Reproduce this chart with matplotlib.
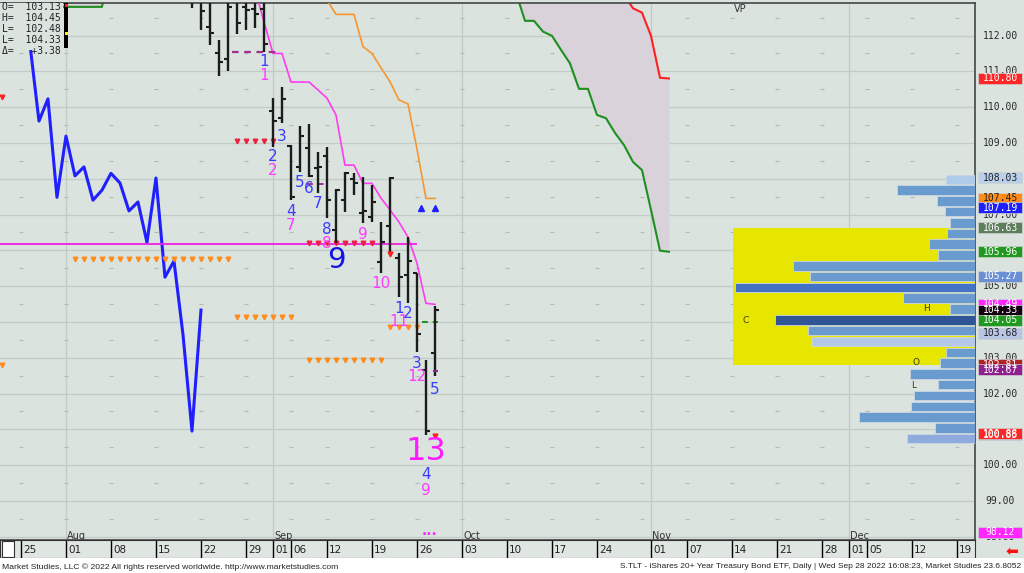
import matplotlib
matplotlib.use("Agg")
import matplotlib.pyplot as plt
import matplotlib.transforms as mtransforms
from matplotlib.patches import Rectangle

# S.TLT daily bars, Aug 19 .. Sep 28 2022 (bar index 0..27)
bar_open = [113.30, 113.20, 112.25, 111.51, 111.34, 113.00, 112.80, 112.73, 112.73,
            109.89, 109.69, 108.92, 108.32, 108.85, 108.30, 108.64, 106.57, 107.40,
            107.99, 107.05, 106.94, 105.66, 106.68, 105.78, 105.31, 105.36, 102.66, 103.13]
bar_high = [113.80, 113.60, 113.10, 111.87, 113.00, 113.40, 113.30, 113.20, 113.10,
            110.25, 110.57, 108.94, 109.47, 109.52, 108.75, 108.88, 107.70, 108.18,
            108.17, 108.06, 107.83, 106.80, 108.04, 105.93, 106.38, 105.36, 102.94, 104.45]
bar_low = [112.77, 112.15, 111.73, 110.87, 111.00, 112.04, 112.15, 112.21, 111.54,
           108.89, 109.56, 107.40, 108.20, 108.06, 107.59, 106.89, 106.20, 107.08,
           107.54, 106.75, 106.80, 105.36, 105.96, 104.70, 104.52, 103.17, 100.85, 102.48]
bar_close = [113.00, 112.69, 112.06, 111.26, 112.80, 112.35, 112.71, 112.60, 111.75,
             109.61, 110.23, 107.48, 109.19, 108.08, 108.33, 107.40, 107.68, 108.15,
             107.88, 107.10, 107.35, 106.22, 108.02, 105.25, 105.70, 103.65, 100.95, 104.33]
bar_idx = list(range(28))
lag_periods = 26

# conversion line (magenta) and base line (orange)
tenkan_idx = list(range(7, 28))
tenkan_val = [113.30, 112.38, 111.50, 111.50, 110.70, 110.70, 110.70, 110.48, 110.25, 109.78,
              108.38, 108.38, 107.87, 107.87, 107.46, 107.13, 106.79, 106.37, 105.64, 104.52, 104.49]
kijun_idx = list(range(14, 28))
kijun_val = [113.50, 112.99, 112.59, 112.59, 112.59, 111.69, 111.50, 111.10, 110.71, 110.20,
             110.09, 108.83, 107.45, 107.45]

# cloud projected forward
cloud_idx = list(range(36, 54))
span_b = [113.20, 112.41, 112.41, 112.11, 111.99, 111.60, 111.22, 110.51, 110.51, 109.78,
          109.69, 109.28, 108.94, 108.47, 108.24, 107.13, 105.99, 105.96]
span_a = [113.90, 113.90, 113.85, 113.80, 113.75, 113.70, 113.60, 113.50, 113.40, 113.35,
          113.30, 113.25, 113.15, 112.76, 112.64, 111.99, 110.82, 110.80]
red_from = 12  # span_a visible from this position on
early_idx = [-22, -21, -20, -19, -18, -17, -16, -15, -14, -13, -12, -11, -10, -9]
early_span_b = [112.80, 112.80, 112.80, 112.80, 112.80, 112.80, 112.80, 112.80, 112.80,
                112.80, 112.80, 112.80, 112.80, 114.00]

# volume profile
vp_price = [107.98, 107.68, 107.38, 107.08, 106.77, 106.47, 106.17, 105.87, 105.57, 105.27,
            104.96, 104.66, 104.36, 104.06, 103.76, 103.45, 103.15, 102.85, 102.55, 102.25,
            101.94, 101.64, 101.34, 101.04, 100.74]
vp_volume = [29, 78, 38, 30, 25, 28, 46, 37, 182, 165, 240, 72, 25, 200, 167, 163, 29, 35,
             65, 37, 61, 64, 116, 40, 68]
vp_colors = ['#aecbea'] + ['#6a9bcf'] * 9 + ['#4472c4', '#6a9bcf', '#6a9bcf', '#2f5597',
             '#6a9bcf', '#b4c7e7'] + ['#6a9bcf'] * 8 + ['#8faadc']
va_high, va_low = 106.63, 102.81

# sequential count labels
td_blue_idx = [8, 9, 10, 11, 12, 13, 14, 15, 23, 24, 25, 27, 26]
td_blue_price = [111.27, 108.61, 109.17, 107.08, 107.89, 107.73, 107.31, 106.59, 104.38,
                 104.24, 102.84, 102.10, 99.75]
td_blue_text = ['1', '2', '3', '4', '5', '6', '7', '8', '1', '2', '3', '5', '4']
td_mag_idx = [8, 9, 11, 15, 19, 21, 23, 25, 26]
td_mag_price = [110.87, 108.22, 106.68, 106.18, 106.43, 105.06, 104.00, 102.47, 99.30]
td_mag_text = ['1', '2', '7', '8', '9', '10', '11', '12', '9']

# marker rows: (first bar, last bar, price)
orange_rows = [(-13, 4, 105.75), (5, 11, 104.13), (13, 21, 102.94), (22, 25, 103.87)]
red_rows = [(5, 9, 109.05), (13, 20, 106.20)]

# right axis: plain levels still visible, then coloured tags
axis_levels = [112, 111, 110, 109, 107, 105, 103, 102, 100, 99, 98]
tag_price = [110.80, 108.03, 107.45, 107.19, 106.63, 105.96, 105.27, 104.49, 104.33, 104.05,
             103.68, 102.81, 102.67, 100.85, 100.88, 98.12]
tag_face = ['#ff2626', '#b8d0ec', '#ff8c1a', '#1e1eff', '#5d7d5d', '#1f9a1f', '#6b8fd6',
            '#ff26ff', '#14000f', '#1f9a1f', '#b8c6e6', '#b02222', '#8e1f8e', '#8fa8da',
            '#ff2626', '#ff26ff']
tag_text = ['white', '#222222', '#222222', 'white', 'white', 'white', 'white', 'white',
            'white', 'white', '#222222', 'white', 'white', 'white', 'white', 'white']

# date axis
day_idx = [-19, -14, -9, -4, 1, 6, 9, 11, 15, 20, 25, 30, 35, 40, 45, 51, 55, 60, 65, 70,
           73, 75, 80, 85]
day_text = ['25', '01', '08', '15', '22', '29', '01', '06', '12', '19', '26', '03', '10',
            '17', '24', '01', '07', '14', '21', '28', '01', '05', '12', '19']
month_idx = [-14, 9, 30, 51, 73]
month_text = ['Aug', 'Sep', 'Oct', 'Nov', 'Dec']
week_idx = [-19, -14, -9, -4, 1, 6, 11, 15, 20, 25, 30, 35, 40, 45, 50, 55, 60, 65, 70, 75, 80, 85]

BG = '#dae3de'
GRID = '#c3cbc6'
W, H = 1024, 573

fig = plt.figure(figsize=(W / 100, H / 100), dpi=100, facecolor=BG)
ax = fig.add_axes([0, 33 / H, 975 / W, 537 / H])
ax.set_facecolor(BG)
ax.set_xlim(-21.33, 87.0)
ax.set_ylim(97.908, 112.908)
ax.set_xticks([])
ax.set_yticks([])
ax.spines['left'].set_visible(False)
for s in ['top', 'right', 'bottom']:
    ax.spines[s].set_color('#444444')
    ax.spines[s].set_linewidth(1.2)

# grid
for p in range(98, 113):
    ax.axhline(p, color=GRID, lw=0.9, zorder=0)
for m in month_idx:
    ax.axvline(m, color=GRID, lw=0.9, zorder=0)
for p in range(98, 113):
    ax.plot(week_idx, [p + 0.5] * len(week_idx), ls='none', marker='_', ms=2.5,
            mew=0.8, color='#b2bab5', zorder=0)

# cloud
ax.fill_between(cloud_idx, span_b, span_a, color='#d9d2db', lw=0, zorder=1)
ax.plot(cloud_idx, span_b, color='#1f8f1f', lw=1.5, zorder=2)
ax.plot(cloud_idx[red_from:], span_a[red_from:], color='#ff2020', lw=1.5, zorder=2)
ax.fill_between(early_idx, early_span_b, 114.0, color='#d9d2db', lw=0, zorder=1)
ax.plot(early_idx, early_span_b, color='#1f8f1f', lw=1.5, zorder=2)

# lines
lag_idx = [i - lag_periods for i in bar_idx]
ax.plot(lag_idx, bar_close, color='#1f1fff', lw=2.2, zorder=3)
ax.plot(tenkan_idx, tenkan_val, color='#ff3cf0', lw=1.2, zorder=3)
ax.plot(kijun_idx, kijun_val, color='#f7962f', lw=1.2, zorder=3)
ax.hlines(106.18, -21.4, 25.0, color='#f020e0', lw=1.3, zorder=3)

# dashed levels
ax.hlines(111.55, 4.5, 9.3, color='#a0308a', lw=1.6, linestyles=(0, (3, 2.5)), zorder=3)
ax.hlines(107.85, 12.8, 15.1, color='#a0308a', lw=1.4, linestyles=(0, (3, 2.5)), zorder=3)
ax.hlines(104.00, 25.6, 27.3, color='#1f8f1f', lw=1.4, linestyles=(0, (3, 2.5)), zorder=3)

# marker rows
for a, b, p in orange_rows:
    xs = list(range(a, b + 1))
    ax.plot(xs, [p] * len(xs), ls='none', marker='v', ms=3.3, color='#ff8c1a', zorder=3)
for a, b, p in red_rows:
    xs = list(range(a, b + 1))
    ax.plot(xs, [p] * len(xs), ls='none', marker='v', ms=3.3, color='#ee2040', zorder=3)
ax.plot([22, 27], [105.90, 100.80], ls='none', marker='v', ms=3.5, color='#ff2020', zorder=5)
ax.plot([-21.1], [110.28], ls='none', marker='v', ms=3.3, color='#ff2020', zorder=3)
ax.plot([-21.1], [102.80], ls='none', marker='v', ms=3.3, color='#ff8c1a', zorder=3)
ax.plot([25.5, 27.0], [107.19, 107.19], ls='none', marker='^', ms=3.8, color='#1e1eff', zorder=3)
ax.text(26.4, 98.06, '···', color='#ff26ff', fontsize=10, fontweight='bold',
        ha='center', va='center', zorder=5)

# OHLC bars
ax.vlines(bar_idx, bar_low, bar_high, color='#1c1c1c', lw=1.7, zorder=4)
ax.hlines(bar_open, [i - 0.42 for i in bar_idx], bar_idx, color='#1c1c1c', lw=1.5, zorder=4)
ax.hlines(bar_close, bar_idx, [i + 0.42 for i in bar_idx], color='#1c1c1c', lw=1.5, zorder=4)
ax.hlines(102.64, 26.8, 27.3, color='#8e1f8e', lw=1.5, zorder=5)

# sequential counts
for i, p, t in zip(td_blue_idx, td_blue_price, td_blue_text):
    ax.text(i, p, t, color='#3c3cff', fontsize=11, ha='center', va='center', zorder=5)
for i, p, t in zip(td_mag_idx, td_mag_price, td_mag_text):
    ax.text(i, p, t, color='#ff3cff', fontsize=11, ha='center', va='center', zorder=5)
ax.text(16, 105.73, '9', color='#1414e6', fontsize=21, ha='center', va='center', zorder=5)
ax.text(26, 100.37, '13', color='#ff1aff', fontsize=23, ha='center', va='center', zorder=5)

# month labels
for m, t in zip(month_idx, month_text):
    ax.text(m + 0.15, 98.03, t, fontsize=7, color='#333333', ha='left', va='center', zorder=5)

# volume profile on its own x scale
vp = ax.twiny()
vp.set_xlim(975, 0)
vp.set_xticks([])
vp.patch.set_visible(False)
for s in vp.spines.values():
    s.set_visible(False)
vp.barh((va_high + va_low) / 2, max(vp_volume) + 2, height=va_high - va_low, left=0,
        color='#e6e600', zorder=1)
vp.barh(vp_price, vp_volume, height=0.27, left=0, color=vp_colors,
        edgecolor='#c9d6e4', lw=0.6, zorder=2)
vp.text(229, 104.05, 'C', fontsize=6.5, color='#3a3a10', ha='center', va='center', zorder=3)
vp.text(49, 104.37, 'H', fontsize=6.5, color='#3a3a10', ha='center', va='center', zorder=3)
vp.text(59, 102.86, 'O', fontsize=6.5, color='#3a3a10', ha='center', va='center', zorder=3)
vp.text(61, 102.22, 'L', fontsize=6.5, color='#3a3a10', ha='center', va='center', zorder=3)
vp.text(241, 112.75, 'VP', fontsize=7, color='#333333', ha='left', va='center', zorder=3)

# right axis labels
blend = mtransforms.blended_transform_factory(fig.transFigure, ax.transData)
for p in axis_levels:
    ax.text(1000 / W, p, '%.2f' % p, transform=blend, fontsize=7, family='DejaVu Sans Mono',
            color='#2a2a2a', ha='center', va='center', clip_on=False, zorder=6)
for p, fc, tc in zip(tag_price, tag_face, tag_text):
    ax.add_patch(Rectangle((978 / W, p - 0.155), 44 / W, 0.31, transform=blend, fc=fc,
                           ec='#d0d0d0', lw=0.5, clip_on=False, zorder=7))
    ax.text(1000 / W, p, '%.2f' % p, transform=blend, fontsize=7, family='DejaVu Sans Mono',
            color=tc, ha='center', va='center', clip_on=False, zorder=8)

# info box (top left)
ax.add_patch(Rectangle((0, (H - 50) / H), 63 / W, 47 / H, transform=fig.transFigure,
                       fc=BG, ec='none', clip_on=False, zorder=6))
info = ['O=  103.13', 'H=  104.45', 'L=  102.48', 'L=  104.33', '\u0394=   +3.38']
for k, line in enumerate(info):
    fig.text(2 / W, (H - 7 - 11 * k) / H, line, fontsize=7, family='DejaVu Sans Mono',
             color='#222222', ha='left', va='center', zorder=7)
fig.add_artist(Rectangle((64 / W, (H - 48) / H), 4 / W, 45 / H, transform=fig.transFigure,
                         fc='black', ec='none', zorder=7))
fig.add_artist(Rectangle((64.5 / W, (H - 7) / H), 3 / W, 3 / H, transform=fig.transFigure,
                         fc='#ff2020', ec='none', zorder=8))
fig.add_artist(Rectangle((65 / W, (H - 35) / H), 3 / W, 3 / H, transform=fig.transFigure,
                         fc='#ffee00', ec='none', zorder=8))

# day row
dax = fig.add_axes([0, 15 / H, 975 / W, 18 / H])
dax.set_facecolor('#dfe6e2')
dax.set_xlim(ax.get_xlim())
dax.set_ylim(0, 1)
dax.set_xticks([])
dax.set_yticks([])
for s in dax.spines.values():
    s.set_color('#333333')
dax.vlines(day_idx, 0, 1, color='black', lw=1)
for i, t in zip(day_idx, day_text):
    dax.text(i + 0.25, 0.45, t, fontsize=7.5, color='#222222', ha='left', va='center')
dax.add_patch(Rectangle((2 / 975, 0.05), 12 / 975, 0.9, transform=dax.transAxes,
                        fc='white', ec='#333333', lw=0.8))

# footer
fig.add_artist(Rectangle((0, 0), 1, 15 / H, transform=fig.transFigure, fc='white', ec='none'))
fig.text(2 / W, 6 / H, 'Market Studies, LLC \u00a9 2022 All rights reserved worldwide. '
         'http://www.marketstudies.com', fontsize=6.1, family='Liberation Sans',
         color='#222222', ha='left', va='center')
fig.text(1021 / W, 6 / H, 'S.TLT - iShares 20+ Year Treasury Bond ETF, Daily | Wed Sep 28 '
         '2022 16:08:23, Market Studies 23.6.8052', fontsize=6, family='Liberation Sans',
         color='#222222', ha='right', va='center')
fig.text(1012 / W, (H - 551) / H, '\u2b05', fontsize=11, color='#ff1010',
         family='DejaVu Sans', ha='center', va='center')

fig.savefig('out.png', dpi=100, facecolor=BG)
